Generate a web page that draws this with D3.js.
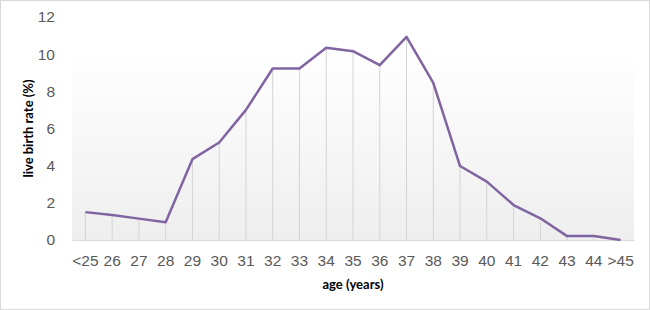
<!DOCTYPE html>
<html>
<head>
<meta charset="utf-8">
<script src="https://cdn.jsdelivr.net/npm/d3@7"></script>
<style>
  body { margin: 0; background: #fff; }
  svg { display: block; font-family: Lato, "Open Sans", sans-serif; }
</style>
</head>
<body>
<div id="chart"></div>
<script>
const ages = ["<25", "26", "27", "28", "29", "30", "31", "32", "33", "34", "35",
  "36", "37", "38", "39", "40", "41", "42", "43", "44", ">45"];
const rates = [1.5, 1.35, 1.15, 0.95, 4.35, 5.25, 7.0, 9.23, 9.23, 10.34, 10.16,
  9.41, 10.93, 8.46, 3.98, 3.14, 1.88, 1.17, 0.21, 0.21, 0.0];
const yTicks = [0, 2, 4, 6, 8, 10, 12];

const width = 650;
const height = 310;
const margin = { top: 17, right: 16, bottom: 70, left: 72 };

const svg = d3.select("#chart")
  .append("svg")
  .attr("width", width)
  .attr("height", height);

// outer chart border
svg.append("rect")
  .attr("x", 0.5).attr("y", 0.5)
  .attr("width", width - 1).attr("height", height - 1)
  .attr("fill", "#fff")
  .attr("stroke", "#d9d9d9");

const x = d3.scaleBand()
  .domain(ages)
  .range([margin.left, width - margin.right]);

const y = d3.scaleLinear()
  .domain([0, 12])
  .range([height - margin.bottom, margin.top]);

/* plot area background gradient */
const grad = svg.append("defs").append("linearGradient")
  .attr("id", "bg").attr("x1", 0).attr("y1", 0).attr("x2", 0).attr("y2", 1);
grad.append("stop").attr("offset", "0%").attr("stop-color", "#ffffff");
grad.append("stop").attr("offset", "15%").attr("stop-color", "#ffffff");
grad.append("stop").attr("offset", "100%").attr("stop-color", "#eeeeee");

svg.append("rect")
  .attr("x", margin.left)
  .attr("y", margin.top)
  .attr("width", width - margin.left - margin.right)
  .attr("height", y(0) - margin.top)
  .attr("fill", "url(#bg)");

const cx = (d) => x(d) + x.bandwidth() / 2;

/* drop lines */
svg.append("g")
  .selectAll("line")
  .data(ages)
  .join("line")
  .attr("x1", cx).attr("x2", cx)
  .attr("y1", y(0))
  .attr("y2", (d, i) => y(rates[i]))
  .attr("stroke", "#d4d4d4")
  .attr("stroke-width", 1);

/* x axis */
svg.append("g")
  .attr("transform", `translate(0,${y(0)})`)
  .call(d3.axisBottom(x).tickSize(0).tickPadding(15))
  .call((g) => g.select(".domain").attr("stroke", "#d9d9d9"))
  .call((g) => g.selectAll("text")
    .attr("fill", "#595959")
    .style("font-size", "15.5px"));

/* y axis */
svg.append("g")
  .attr("transform", `translate(${margin.left},0)`)
  .call(d3.axisLeft(y).tickValues(yTicks).tickSize(0).tickPadding(17))
  .call((g) => g.select(".domain").remove())
  .call((g) => g.selectAll("text")
    .attr("fill", "#595959")
    .style("font-size", "15.5px"));

/* line */
svg.append("path")
  .datum(rates)
  .attr("fill", "none")
  .attr("stroke", "#8064a2")
  .attr("stroke-width", 2.5)
  .attr("stroke-linejoin", "round")
  .attr("d", d3.line()
    .x((d, i) => cx(ages[i]))
    .y((d) => y(d)));

/* axis titles */
svg.append("text")
  .attr("x", (margin.left + width - margin.right) / 2)
  .attr("y", 289)
  .attr("text-anchor", "middle")
  .attr("font-weight", "bold")
  .style("font-size", "13px")
  .attr("fill", "#000")
  .text("age (years)");

svg.append("text")
  .attr("transform", `translate(33,${(margin.top + y(0)) / 2}) rotate(-90)`)
  .attr("text-anchor", "middle")
  .attr("font-weight", "bold")
  .style("font-size", "13px")
  .attr("fill", "#000")
  .text("live birth rate (%)");
</script>
</body>
</html>
